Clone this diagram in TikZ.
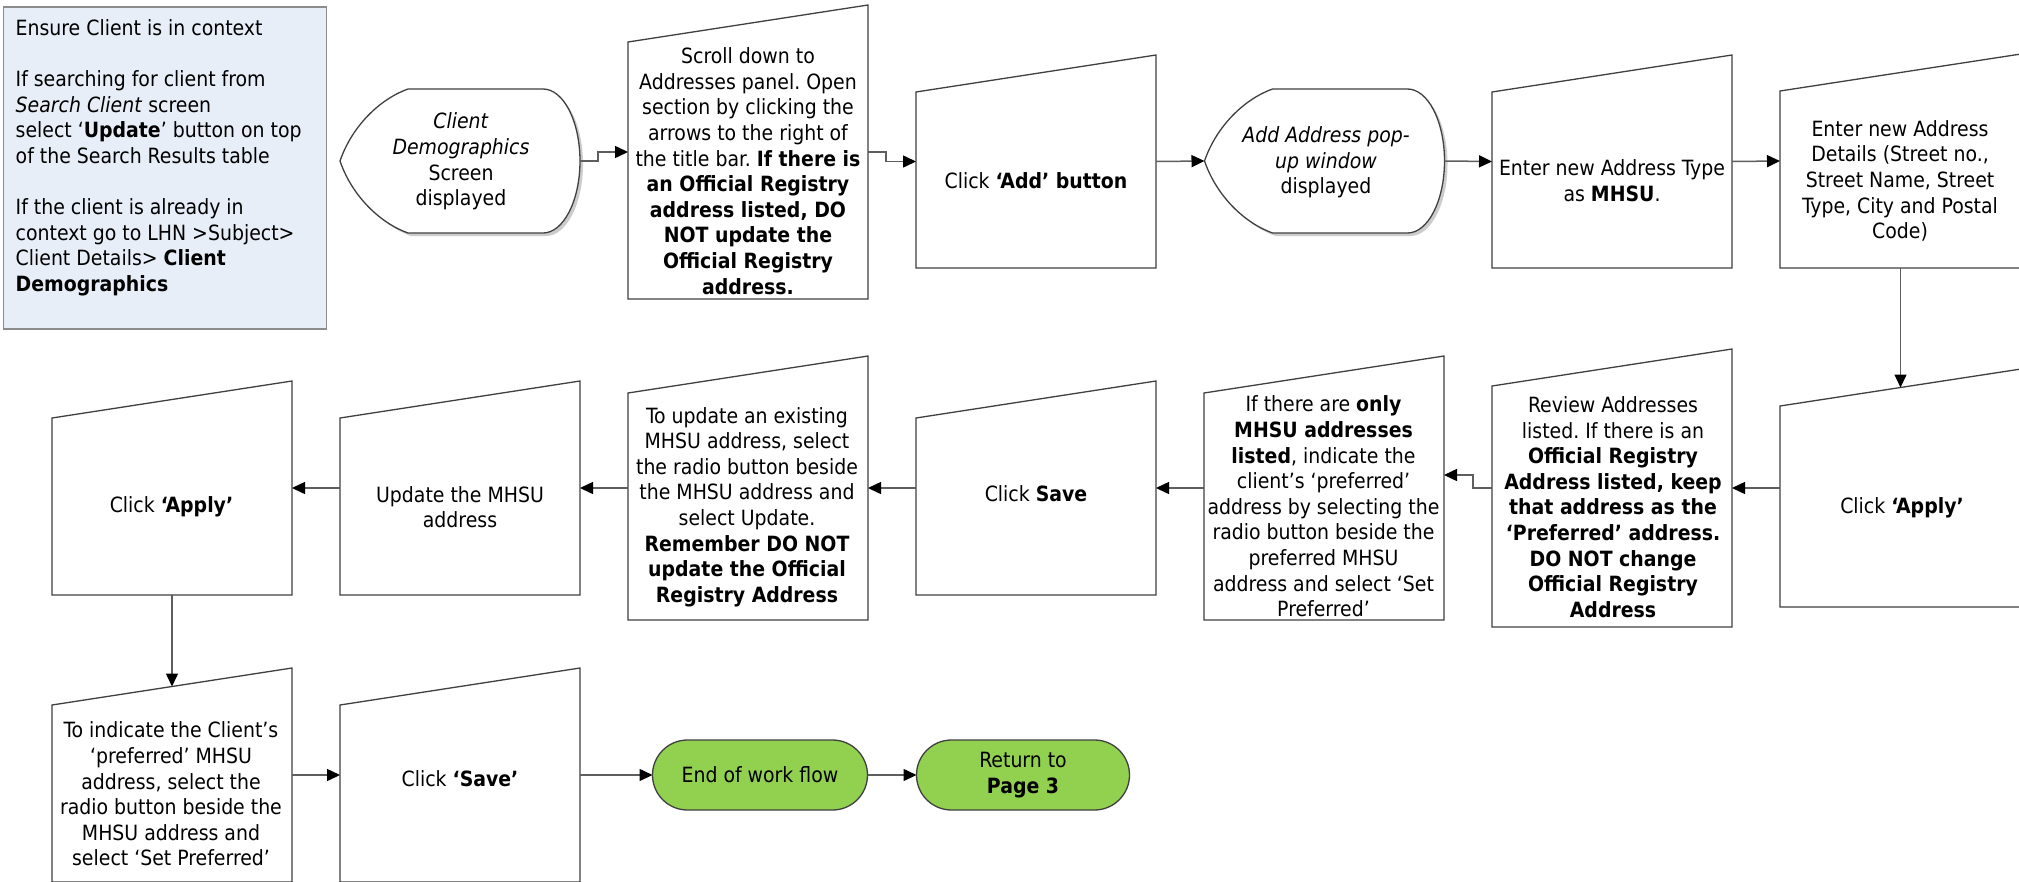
\documentclass[tikz,border=0pt]{standalone}
\usepackage{fontspec}
\setmainfont{DejaVu Sans Condensed}
\usetikzlibrary{arrows.meta,calc}
\frenchspacing

\definecolor{notefill}{HTML}{E8EEF8}
\definecolor{noteline}{HTML}{8C8C8C}
\definecolor{boxline}{HTML}{404040}
\definecolor{connline}{HTML}{5E5E5E}
\definecolor{endgreen}{HTML}{92D050}

\tikzset{
  anchorbox/.style={inner sep=0pt, outer sep=0pt, draw=none},
  outline/.style={draw=boxline, line width=1.3pt, fill=white},
  txt/.style={inner sep=0pt, align=center, font=\fontsize{21}{25.6}\selectfont},
  notebox/.style={draw=noteline, fill=notefill, line width=1.3pt, inner sep=0pt, outer sep=0pt},
  term/.style={draw=boxline, fill=endgreen, line width=1.3pt, rounded corners=35pt,
    minimum height=70pt, inner sep=0pt, outer sep=0pt, align=center,
    font=\fontsize{21}{25.6}\selectfont},
  conn/.style={draw=connline, line width=1.5pt,
    -{Triangle[length=13pt,width=12pt,color=black]}}
}

% manual input step: name, left x, right x, top-right y, bottom y
\newcommand\manualin[5]{%
  \node[anchorbox, minimum width={#3-#2}, minimum height={#5-#4}] (#1)
    at ({(#2+#3)/2},{(#4+#5)/2}) {};
  \draw[outline] (#1.south west) -- ([yshift=-37pt]#1.north west)
    -- (#1.north east) -- (#1.south east) -- cycle;
  \coordinate (#1-top) at ([yshift=-18.5pt]#1.north);
}

% display shape with a soft shadow: name, centre x, centre y
\newcommand\displayshape[3]{%
  \node[anchorbox, minimum width=240pt, minimum height=144pt] (#1) at (#2,#3) {};
  \fill[black!20, shift={(3,3)}]
    ({#2-52},{#3-72}) -- ({#2+83},{#3-72})
    .. controls ({#2+103.4},{#3-72}) and ({#2+120},{#3-39.8}) .. ({#2+120},{#3})
    .. controls ({#2+120},{#3+39.8}) and ({#2+103.4},{#3+72}) .. ({#2+83},{#3+72})
    -- ({#2-52},{#3+72})
    .. controls ({#2-80},{#3+62}) and ({#2-108},{#3+35}) .. ({#2-120},{#3})
    .. controls ({#2-108},{#3-35}) and ({#2-80},{#3-62}) .. ({#2-52},{#3-72}) -- cycle;
  \draw[outline]
    ({#2-52},{#3-72}) -- ({#2+83},{#3-72})
    .. controls ({#2+103.4},{#3-72}) and ({#2+120},{#3-39.8}) .. ({#2+120},{#3})
    .. controls ({#2+120},{#3+39.8}) and ({#2+103.4},{#3+72}) .. ({#2+83},{#3+72})
    -- ({#2-52},{#3+72})
    .. controls ({#2-80},{#3+62}) and ({#2-108},{#3+35}) .. ({#2-120},{#3})
    .. controls ({#2-108},{#3-35}) and ({#2-80},{#3-62}) .. ({#2-52},{#3-72}) -- cycle;
}

\begin{document}
\begin{tikzpicture}[x=1pt, y=-1pt]
\useasboundingbox (0,0) rectangle (2019,881);
\fill[white] (0,0) rectangle (2019,881);

% instructions panel
\node[notebox, minimum width=323pt, minimum height=322pt] (note) at (165,168) {};
\node[txt, align=left, anchor=west] (note-t) at (15.5,157.5) {%
  Ensure Client is in context\\[25.6pt]
  If searching for client from\\
  \textit{Search Client} screen\\
  select ‘\textbf{Update}’ button on top\\
  of the Search Results table\\[25.6pt]
  If the client is already in\\
  context go to LHN >Subject>\\
  Client Details> \textbf{Client}\\
  \textbf{Demographics}};

% first row
\displayshape{disp1}{460}{161}
\node[txt] (disp1-t) at (461,161.5) {\textit{Client}\\\textit{Demographics}\\Screen\\displayed};

\manualin{scroll}{628}{868}{5}{299}
\node[txt] (scroll-t) at (748,171) {Scroll down to\\Addresses panel. Open\\section by clicking the\\arrows to the right of\\the title bar. \textbf{If there is}\\\textbf{an Official Registry}\\\textbf{address listed, DO}\\\textbf{NOT update the}\\\textbf{Official Registry}\\\textbf{address.}};

\manualin{add}{916}{1156}{55}{268}
\node[txt] (add-t) at (1036,181) {Click \textbf{‘Add’ button}};

\displayshape{disp2}{1324.5}{161}
\node[txt] (disp2-t) at (1326,162.5) {\textit{Add Address pop-}\\\textit{up window}\\displayed};

\manualin{type}{1492}{1732}{55}{268}
\node[txt] (type-t) at (1612,180.5) {Enter new Address Type\\as \textbf{MHSU}.};

\manualin{details}{1780}{2021}{54}{268}
\node[txt] (details-t) at (1900,181) {Enter new Address\\Details (Street no.,\\Street Name, Street\\Type, City and Postal\\Code)};

% second row
\manualin{apply1}{1780}{2021}{369}{607}
\node[txt] (apply1-t) at (1902,508) {Click \textbf{‘Apply’}};

\manualin{review}{1492}{1732}{349}{627}
\node[txt] (review-t) at (1613,507) {Review Addresses\\listed. If there is an\\\textbf{Official Registry}\\\textbf{Address listed, keep}\\\textbf{that address as the}\\\textbf{‘Preferred’ address.}\\\textbf{DO NOT change}\\\textbf{Official Registry}\\\textbf{Address}};

\manualin{only}{1204}{1444}{356}{620}
\node[txt] (only-t) at (1323.5,506.5) {If there are \textbf{only}\\\textbf{MHSU addresses}\\\textbf{listed}, indicate the\\client’s ‘preferred’\\address by selecting the\\radio button beside the\\preferred MHSU\\address and select ‘Set\\Preferred’};

\manualin{save}{916}{1156}{381}{595}
\node[txt] (save-t) at (1036,494) {Click \textbf{Save}};

\manualin{upd}{628}{868}{356}{620}
\node[txt] (upd-t) at (747,507) {To update an existing\\MHSU address, select\\the radio button beside\\the MHSU address and\\select Update.\\\textbf{Remember DO NOT}\\\textbf{update the Official}\\\textbf{Registry Address}};

\manualin{updm}{340}{580}{381}{595}
\node[txt] (updm-t) at (460,507) {Update the MHSU\\address};

\manualin{apply2}{52}{292}{381}{595}
\node[txt] (apply2-t) at (171.5,506.7) {Click \textbf{‘Apply’}};

% third row
\manualin{indicate}{52}{292}{668}{882}
\node[txt] (indicate-t) at (171,794) {To indicate the Client’s\\‘preferred’ MHSU\\address, select the\\radio button beside the\\MHSU address and\\select ‘Set Preferred’};

\manualin{save2}{340}{580}{668}{882}
\node[txt] (save2-t) at (460,779) {Click \textbf{‘Save’}};

\node[term, minimum width=215pt] (end) at (760,775) {End of work flow};
\node[term, minimum width=213pt] (ret) at (1023,775) {Return to\\\textbf{Page 3}};

% connectors
\draw[conn] (disp1.east) -- ++(18,0) |- (scroll.west);
\draw[conn] (scroll.east) -- ++(18,0) |- (add.west);
\draw[conn] (add.east) -- (disp2.west);
\draw[conn] (disp2.east) -- (type.west);
\draw[conn] (type.east) -- (details.west);
\draw[conn] (details.south) -- (apply1-top);
\draw[conn] (apply1.west) -- (review.east);
\draw[conn] (review.west) -- ++(-19,0) |- ([yshift=13pt]only.east);
\draw[conn] (only.west) -- (save.east);
\draw[conn] (save.west) -- (upd.east);
\draw[conn] (upd.west) -- (updm.east);
\draw[conn] (updm.west) -- (apply2.east);
\draw[conn] (apply2.south) -- (indicate-top);
\draw[conn] (indicate.east) -- (save2.west);
\draw[conn] (save2.east) -- (end.west);
\draw[conn] (end.east) -- (ret.west);
\end{tikzpicture}
\end{document}
